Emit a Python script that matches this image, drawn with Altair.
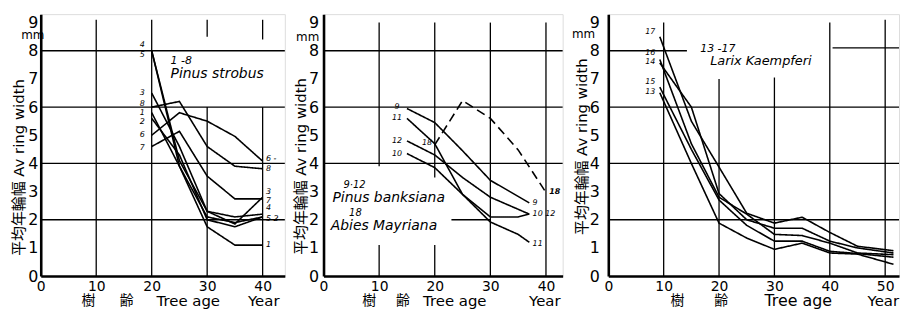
import altair as alt
import pandas as pd

FONT = "DejaVu Sans, Noto Sans CJK JP"
H = 264
YMAX = 9.3

# ---------------- data ----------------
# Panel 1: Pinus strobus (trees 1-8)
p1_age = [20, 25, 30, 35, 40]
p1_series = {
    "1": [5.8, 3.9, 1.75, 1.1, 1.1],
    "2": [5.6, 4.3, 2.0, 1.75, 2.1],
    "3": [6.5, 4.6, 2.3, 1.85, 2.8],
    "4": [8.0, 4.1, 2.3, 2.1, 2.2],
    "5": [8.0, 3.9, 2.1, 1.9, 2.1],
    "6": [5.0, 5.8, 5.5, 4.96, 4.08],
    "7": [4.6, 5.14, 3.55, 2.74, 2.74],
    "8": [6.0, 6.2, 4.6, 3.9, 3.81],
}

# Panel 2: Pinus banksiana (9-12) and Abies Mayriana (18, dashed)
p2_series = {
    "9": ([15, 20, 25, 30, 37], [5.95, 5.45, 4.45, 3.4, 2.6]),
    "11": ([15, 20, 25, 30, 35, 37], [5.6, 4.7, 2.9, 1.92, 1.48, 1.2]),
    "12": ([15, 20, 25, 30, 37], [4.8, 4.3, 3.5, 2.8, 2.2]),
    "10": ([15, 20, 25, 30, 35, 37], [4.35, 3.85, 2.9, 2.1, 2.1, 2.2]),
    "18": ([20, 25, 30, 35, 40], [4.66, 6.23, 5.6, 4.48, 2.97]),
}
p2_dashed = ["18"]

# Panel 3: Larix Kaempferi (13-17)
p3_age = [9.3, 15, 20, 25, 30, 35, 40, 45, 51.5]
p3_series = {
    "17": [8.5, 5.5, 3.87, 2.23, 1.88, 2.09, 1.55, 1.06, 0.9],
    "14": [7.57, 6.0, 2.93, 2.0, 1.7, 1.7, 1.24, 1.0, 0.82],
    "16": [7.69, 4.7, 2.8, 2.2, 1.48, 1.44, 1.17, 0.82, 0.76],
    "15": [6.71, 4.5, 2.7, 1.8, 1.24, 1.24, 0.88, 0.8, 0.67],
    "13": [6.51, 4.0, 1.88, 1.35, 0.95, 1.17, 0.82, 0.78, 0.42],
}

y_ticks = [0, 1, 2, 3, 4, 5, 6, 7, 8, 9]
x_ticks_a = [0, 10, 20, 30, 40]
x_ticks_b = [0, 10, 20, 30, 40, 50]
y_title = "平均年輪幅  Av ring width"


def long_df(series, ages=None, dashed=()):
    rows = []
    for name, v in series.items():
        if ages is None:
            xs, ys = v
        else:
            xs, ys = ages, v
        for a, b in zip(xs, ys):
            rows.append({"s": name, "x": a, "y": b,
                         "d": "dashed" if name in dashed else "solid"})
    return pd.DataFrame(rows)


def panel(df, width, xmax, xticks, grid, start_lab, end_lab, notes, xt,
          mm_x, mm_y, title_y, lab_pad, title_pad):
    xs = alt.Scale(domain=[0, xmax], nice=False, zero=True)
    ys = alt.Scale(domain=[0, YMAX], nice=False)
    xax = alt.Axis(values=xticks, title=None, ticks=False, grid=False,
                   domainColor="black", domainWidth=2.6, labelFontSize=14,
                   labelColor="black", labelFont=FONT, labelPadding=4,
                   labelFlush=False)
    yax = alt.Axis(values=y_ticks, title=y_title, ticks=False, grid=False,
                   domainColor="black", domainWidth=2.6, labelFontSize=16,
                   labelColor="black", labelFont=FONT, labelPadding=lab_pad,
                   titleFont=FONT, titleFontSize=15, titleFontWeight="normal",
                   titleColor="black", titlePadding=title_pad, titleY=title_y)
    X = alt.X("x:Q", scale=xs, axis=xax)
    Y = alt.Y("y:Q", scale=ys, axis=yax)

    g = pd.DataFrame(grid, columns=["x", "x2", "y", "y2"])
    grid_l = alt.Chart(g).mark_rule(color="black", strokeWidth=1.3).encode(
        x=X, x2="x2:Q", y=Y, y2="y2:Q")

    lines = alt.Chart(df).mark_line(color="black", strokeWidth=1.6).encode(
        x=X, y=Y, detail="s:N",
        strokeDash=alt.StrokeDash("d:N", scale=alt.Scale(
            domain=["solid", "dashed"], range=[[1, 0], [9, 5]]), legend=None))

    layers = [grid_l, lines]
    if start_lab:
        sl = pd.DataFrame(start_lab, columns=["t", "x", "y"])
        layers.append(alt.Chart(sl).mark_text(
            align="center", baseline="middle", fontSize=8, fontStyle="italic",
            font=FONT, color="black").encode(x=X, y=Y, text="t:N"))
    if end_lab:
        el = pd.DataFrame(end_lab, columns=["t", "x", "y", "w"])
        for w in ["normal", "bold"]:
            sub = el[el.w == w]
            if len(sub):
                layers.append(alt.Chart(sub).mark_text(
                    align="left", baseline="middle", fontSize=8,
                    fontStyle="italic", fontWeight=w,
                    font=FONT, color="black").encode(x=X, y=Y, text="t:N"))
    nt = pd.DataFrame(notes, columns=["t", "x", "y", "fs"])
    layers.append(alt.Chart(nt).mark_text(
        align="left", baseline="middle", fontStyle="italic",
        font=FONT, color="black").encode(
            x=X, y=Y, text="t:N",
            size=alt.Size("fs:Q", scale=None, legend=None)))
    mm = pd.DataFrame([{"t": "mm", "y": mm_y}])
    layers.append(alt.Chart(mm).mark_text(
        align="center", baseline="middle", fontSize=12, font=FONT,
        color="black").encode(x=alt.value(mm_x), y=Y, text="t:N"))
    tt = pd.DataFrame(xt, columns=["t", "x", "a", "fs"])
    for al in ["center", "right"]:
        sub = tt[tt.a == al]
        if len(sub):
            layers.append(alt.Chart(sub).mark_text(
                align=al, baseline="middle", font=FONT, color="black").encode(
                    x=X, y=alt.value(H + 25), text="t:N",
                    size=alt.Size("fs:Q", scale=None, legend=None)))
    return alt.layer(*layers).properties(width=width, height=H)


# ---------- panel 1 ----------
df1 = long_df(p1_series, p1_age)
grid1 = [(0, 44, 8, 8), (0, 44, 6, 6), (0, 44, 4, 4), (0, 44, 2, 2),
         (10, 10, 0, 9.1), (20, 20, 0, 9.1),
         (30, 30, 0, 6), (30, 30, 8.5, 9.1), (40, 40, 0, 6), (40, 40, 8.4, 9.1)]
start1 = [("4", 18.3, 8.2), ("5", 18.3, 7.85), ("3", 18.3, 6.5),
          ("8", 18.3, 6.1), ("1", 18.3, 5.78), ("2", 18.3, 5.46),
          ("6", 18.3, 5.0), ("7", 18.3, 4.55)]
end1 = [("6 -", 40.6, 4.14, "normal"), ("8", 40.6, 3.8, "normal"),
        ("3", 40.6, 3.0, "normal"), ("7", 40.6, 2.66, "normal"),
        ("4", 40.6, 2.4, "normal"), ("5 2", 40.6, 2.04, "normal"),
        ("1", 40.6, 1.1, "normal")]
notes1 = [("1 -8", 23.4, 7.64, 11), ("Pinus strobus", 23.4, 7.16, 14)]
xt1 = [("樹", 8.6, "center", 14), ("齢", 15.5, "center", 14),
       ("Tree age", 26.6, "center", 15), ("Year", 40.2, "center", 15)]
c1 = panel(df1, 246, 44, x_ticks_a, grid1, start1, end1, notes1, xt1,
           -8, 8.56, 154, 3, 1)

# ---------- panel 2 ----------
df2 = long_df(p2_series, None, p2_dashed)
grid2 = [(0, 43, 8, 8), (0, 43, 6, 6), (0, 43, 4, 4), (23, 30, 2, 2),
         (10, 10, 3.9, 9.0), (10, 10, 0, 1.1), (20, 20, 3.5, 9.0),
         (20, 20, 0, 1.1), (30, 30, 0, 9.0), (40, 40, 0, 9.0)]
start2 = [("9", 13.2, 6.0), ("11", 13.2, 5.6), ("12", 13.2, 4.8),
          ("10", 13.2, 4.35), ("18", 18.6, 4.72)]
end2 = [("9", 37.6, 2.6, "normal"), ("10 12", 37.6, 2.2, "normal"),
        ("11", 37.6, 1.15, "normal"), ("18", 40.6, 3.0, "bold")]
notes2 = [("9·12", 3.6, 3.24, 10), ("Pinus banksiana", 1.6, 2.78, 14),
          ("18", 4.6, 2.24, 10), ("Abies Mayriana", 1.3, 1.76, 14)]
xt2 = [("樹", 8.2, "center", 14), ("齢", 14.3, "center", 14),
       ("Tree age", 23.6, "center", 15), ("Year", 39.8, "center", 15)]
c2 = panel(df2, 241, 43, x_ticks_a, grid2, start2, end2, notes2, xt2,
           -16, 8.47, 153, 5, 0)

# ---------- panel 3 ----------
df3 = long_df(p3_series, p3_age)
grid3 = [(0, 14.2, 8, 8), (40.5, 52.5, 8.1, 8.1), (0, 52.5, 6, 6),
         (0, 52.5, 4, 4), (0, 52.5, 2, 2),
         (10, 10, 0, 9.0), (20, 20, 0, 7.0), (30, 30, 0, 7.05),
         (40, 40, 0, 9.0), (50, 50, 0, 9.1)]
start3 = [("17", 7.6, 8.65), ("16", 7.6, 7.92), ("14", 7.6, 7.6),
          ("15", 7.6, 6.88), ("13", 7.6, 6.52)]
notes3 = [("13 -17", 16.6, 8.05, 11), ("Larix Kaempferi", 18.4, 7.62, 13)]
xt3 = [("樹", 12.5, "center", 14), ("齢", 20.4, "center", 14),
       ("Tree age", 34.3, "center", 16), ("Year", 52.5, "right", 15)]
c3 = panel(df3, 293, 52.5, x_ticks_b, grid3, start3, None, notes3, xt3,
           -25, 8.6, 133, 9, 0)

chart = alt.hconcat(c1, c2, c3, spacing=6).properties(
    padding={"left": 3, "top": 4, "right": 0, "bottom": 0}
).configure_view(strokeWidth=0).configure(background="white")

chart.save("out.html", embed_options={"renderer": "svg", "actions": False})
